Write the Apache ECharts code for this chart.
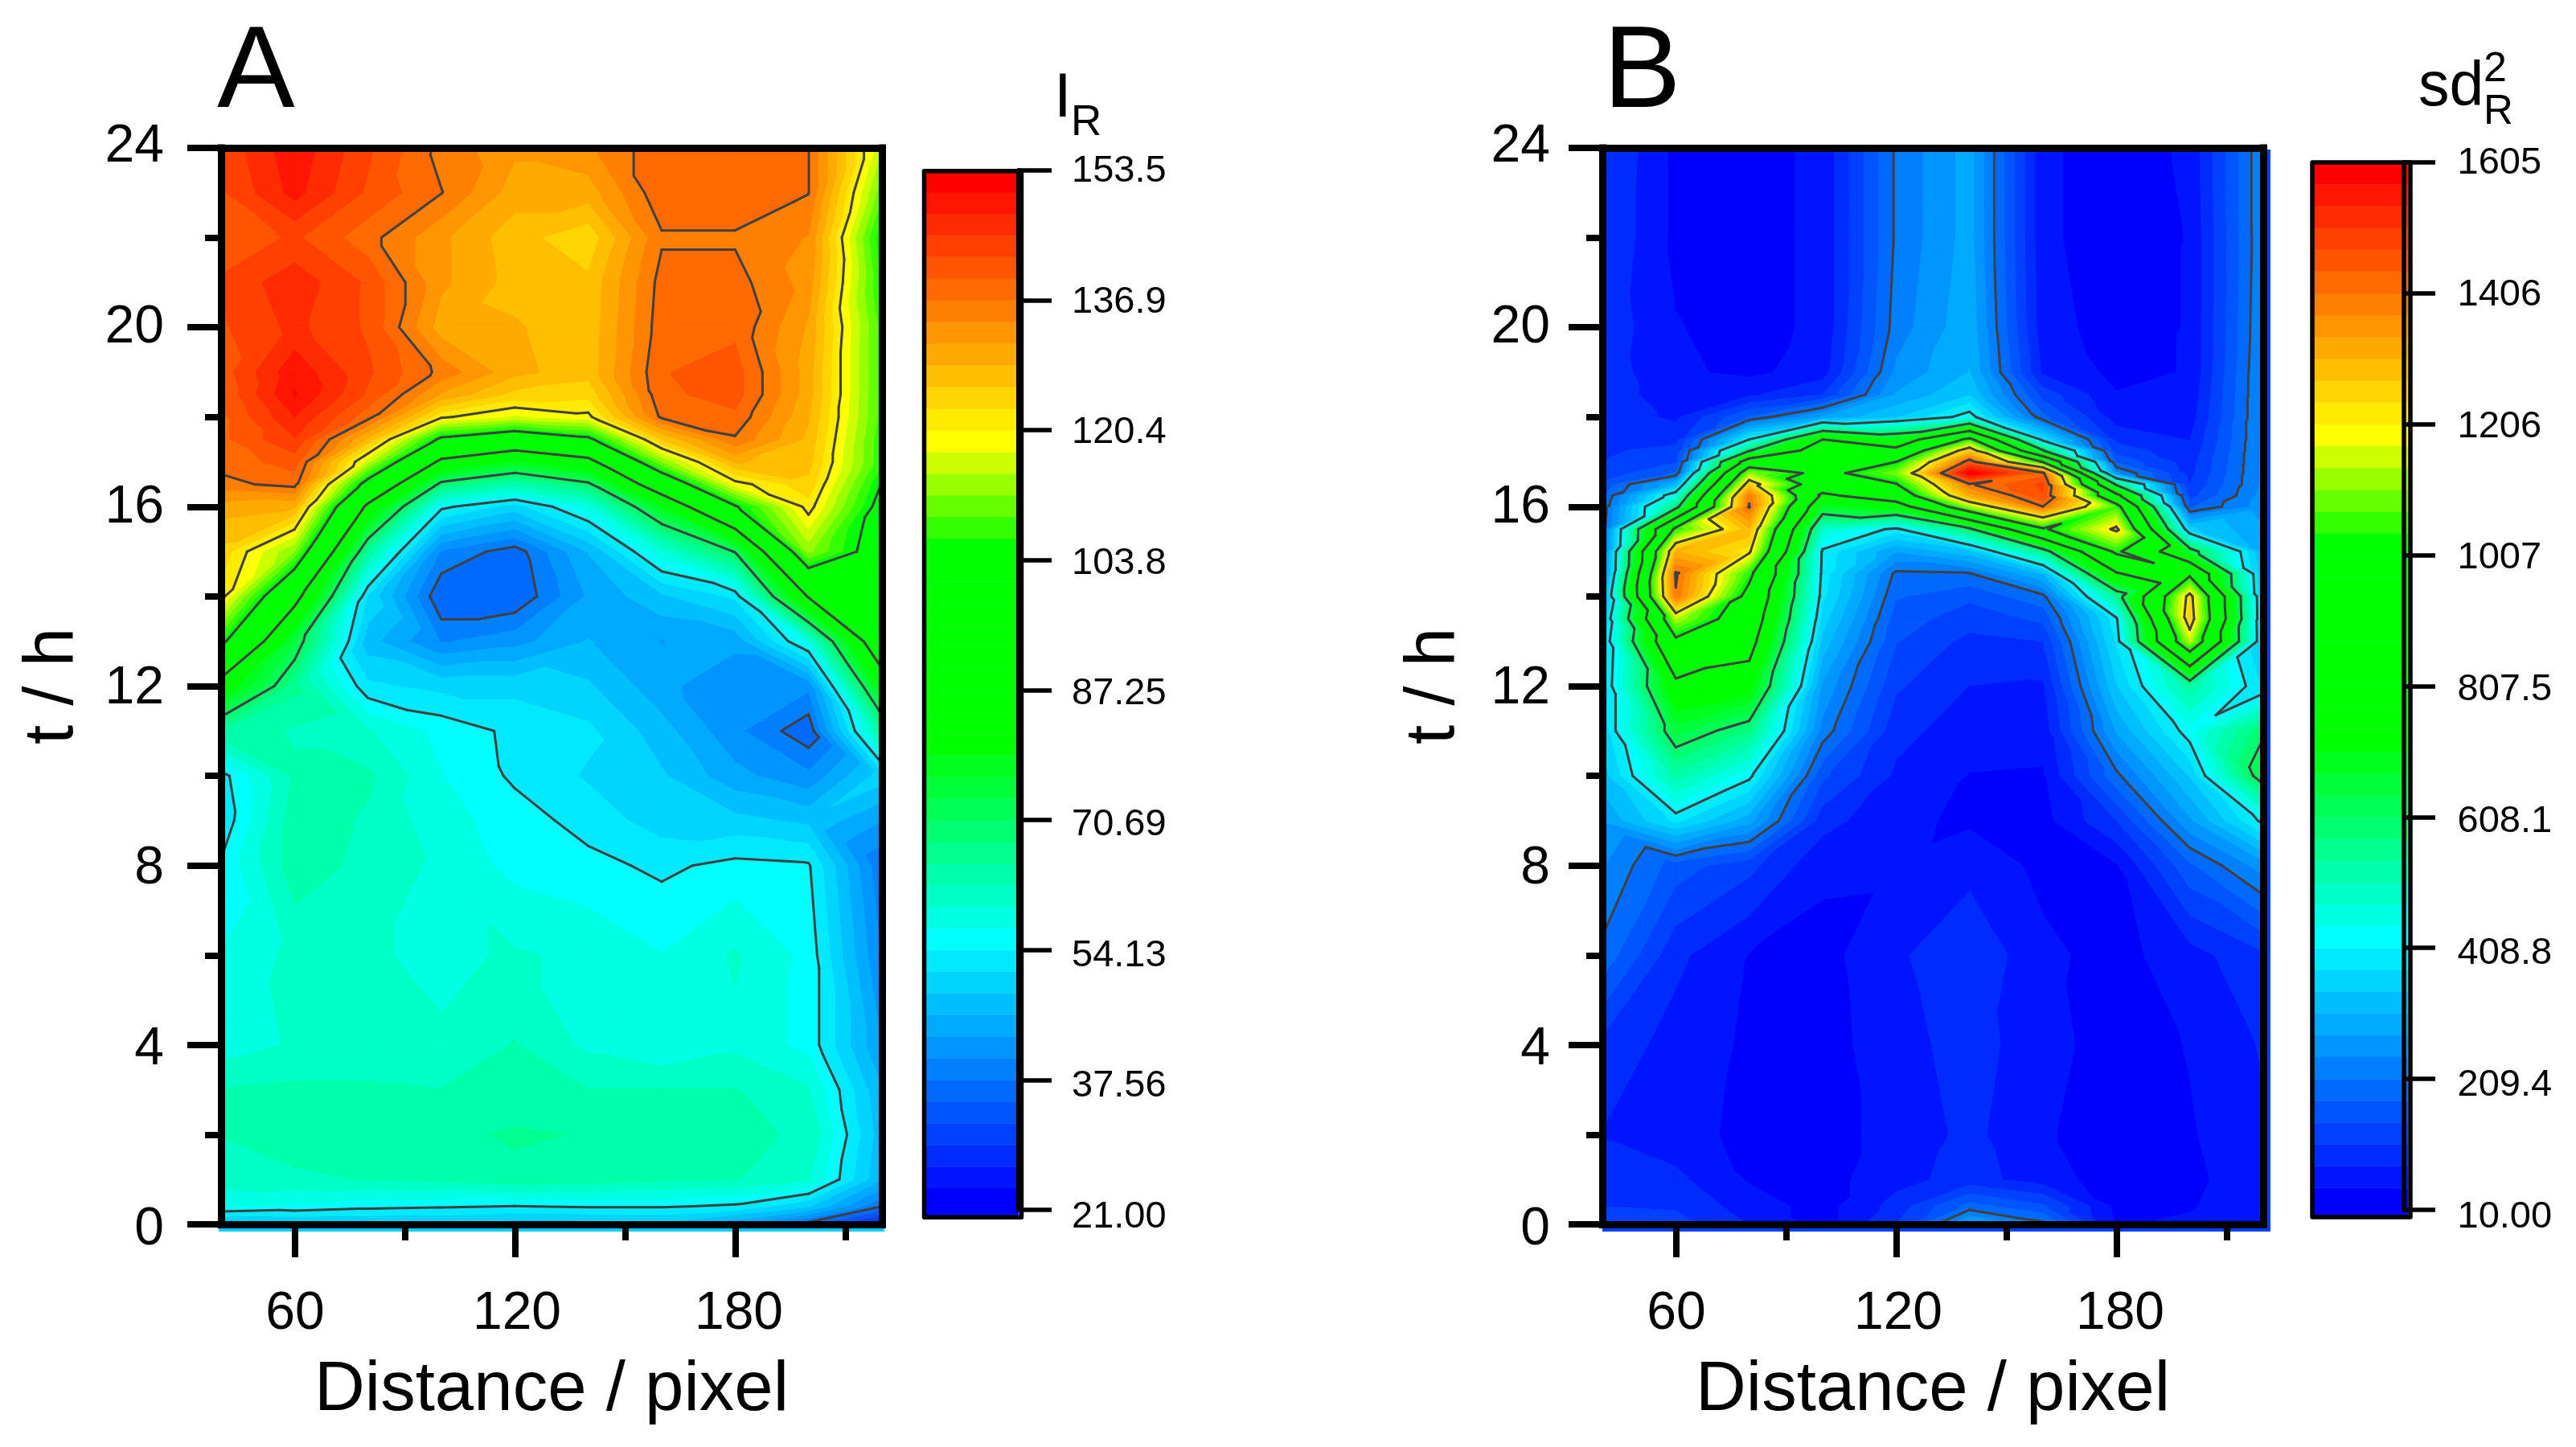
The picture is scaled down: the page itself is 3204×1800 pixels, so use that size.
<!DOCTYPE html>
<html>
<head>
<meta charset="utf-8">
<title>Contour maps</title>
<script src="https://cdn.jsdelivr.net/npm/echarts@6/dist/echarts.min.js"></script>
<style>
html, body { margin: 0; background: #fff; }
#chart { width: 3204px; height: 1800px; }
</style>
</head>
<body>
<div id="chart"></div>
<script>
const distance = [40, 60, 80, 100, 120, 140, 160, 180, 200, 220];
const xTicks = [60, 120, 180];
const xMinorTicks = [90, 150, 210];

// panel A, one list per distance, rows follow hoursA
const hoursA = [0, 0.4, 1, 2, 3, 4, 6, 8, 9, 10, 11, 12, 13, 14, 15, 16, 16.5, 17, 17.5, 18, 18.5, 19, 20, 21, 22, 23, 24];
const ir40 = [47, 57, 61, 62.5, 62.5, 58, 57, 54.5, 52, 53, 65, 83, 106, 122, 125, 130, 136, 138, 139, 139, 140, 141, 142, 143, 140, 142, 143];
const ir60 = [48, 56, 62, 63.5, 63, 60, 60.5, 64, 64, 63, 62, 66, 74, 91, 112, 129, 138, 141, 145, 148, 151, 150, 146, 147, 143, 149, 150];
const ir80 = [48, 55, 62.5, 64, 63, 60, 60, 61.5, 62, 63, 60, 52, 47, 51, 65, 85, 100, 116, 128, 138, 142, 143, 142, 142, 138, 142, 143];
const ir100 = [48, 54.5, 63, 64.5, 62.5, 60, 59, 59, 58, 57, 56, 50.5, 40, 35, 40, 55, 69, 85, 102, 121, 131, 136, 130, 132, 132, 137, 136];
const ir120 = [47, 54, 64.5, 65.5, 63.5, 62.6, 60, 56, 55.5, 53.6, 53.4, 50.5, 42, 35, 36, 50, 63, 78, 96, 117, 125, 129.5, 129, 127.5, 127, 130, 132];
const ir140 = [47, 54.5, 64, 65, 62.5, 59, 59, 55, 53, 51, 52, 49, 46, 43.5, 46, 58, 69.5, 84, 102, 119.5, 124, 127, 126.8, 126.5, 124, 130, 133.5];
const ir160 = [47.5, 54.5, 63, 63.5, 62.5, 57, 57, 53.5, 50, 49, 47, 44, 43, 48, 59, 78, 95, 112, 126, 137.5, 139, 139.5, 138.5, 138, 136.5, 139, 139];
const ir180 = [43, 53.5, 62.5, 63, 62.5, 59, 60, 55, 49.5, 44, 41, 40.5, 44, 52, 71, 103, 119, 129, 136.5, 139, 141, 141, 139, 138, 136.5, 139, 139];
const ir200 = [36, 49, 60, 62, 60, 56, 56, 54.5, 48, 41, 35.5, 41, 58, 88, 113, 122, 125, 127, 128, 129, 130, 130, 131, 133, 134, 137, 137];
const ir220 = [26, 37.5, 46, 47, 46, 43, 40, 38, 43, 50, 65, 81, 97, 98, 99, 101, 103.5, 107, 107, 108, 108, 108, 108, 106, 104, 110, 115];
const ticksA = [21, 37.56, 54.13, 70.69, 87.25, 103.8, 120.4, 136.9, 153.5];

// panel B, rows follow hoursB
const hoursB = [0, 0.4, 1, 2, 4, 6, 8, 9, 10, 11, 12, 13, 13.5, 14, 14.5, 15, 15.5, 16, 16.25, 16.5, 16.75, 17, 17.25, 17.5, 18, 18.5, 19, 20, 22, 24];
const sd40 = [130, 110, 90, 75, 100, 200, 245, 280, 325, 355, 355, 345, 320, 270, 212, 205, 195, 185, 170, 150, 120, 110, 105, 100, 95, 95, 95, 100, 110, 115];
const sd60 = [125, 105, 85, 55, 62, 85, 160, 385, 528, 654, 772, 980, 1140, 1400, 1415, 1308, 1040, 570, 455, 310, 180, 140, 120, 100, 70, 58, 50, 45, 35, 35];
const sd80 = [75, 60, 40, 35, 38, 42, 120, 290, 420, 570, 740, 860, 910, 960, 1040, 1220, 1300, 1410, 1395, 1260, 1120, 900, 600, 408, 180, 70, 35, 32, 32, 32];
const sd100 = [30, 30, 30, 30, 30, 32, 50, 90, 150, 230, 270, 330, 360, 385, 395, 400, 480, 670, 780, 900, 965, 950, 900, 807, 280, 110, 60, 50, 50, 50];
const sd120 = [110, 90, 65, 55, 62, 70, 48, 50, 70, 88, 115, 145, 160, 180, 200, 276, 396, 730, 900, 1000, 1100, 1007, 850, 700, 340, 280, 250, 225, 215, 215];
const sd140 = [290, 190, 90, 85, 92, 105, 65, 38, 42, 58, 76, 100, 125, 150, 205, 330, 590, 1120, 1320, 1400, 1600, 1440, 1270, 1040, 430, 340, 310, 300, 290, 290];
const sd160 = [220, 150, 60, 48, 55, 50, 35, 32, 40, 55, 72, 110, 150, 200, 310, 560, 990, 1405, 1470, 1480, 1420, 1000, 620, 385, 185, 130, 70, 55, 50, 50];
const sd180 = [40, 35, 25, 22, 28, 32, 40, 110, 200, 280, 340, 380, 400, 550, 790, 1035, 1225, 1060, 850, 590, 250, 170, 130, 100, 60, 45, 35, 30, 25, 25];
const sd200 = [50, 40, 35, 40, 45, 62, 170, 270, 345, 430, 535, 1150, 1260, 1240, 980, 650, 350, 170, 130, 110, 100, 95, 85, 75, 60, 52, 45, 45, 45, 50];
const sd220 = [80, 70, 65, 70, 80, 105, 260, 420, 650, 600, 370, 340, 335, 330, 320, 300, 280, 260, 255, 250, 250, 250, 250, 250, 250, 250, 250, 245, 240, 240];
const ticksB = [10, 209.4, 408.8, 608.1, 807.5, 1007, 1206, 1406, 1605];

const FONT = "'Liberation Sans', Arial, sans-serif";
const BANDS = 48;
const LINE_COLOR = "#404040";
// colour ramp of the bar, band index -> rgb
const rampStops = [
	[0, [0, 0, 255]],
	[12, [0, 255, 255]],
	[21, [0, 255, 0]],
	[30, [0, 255, 0]],
	[35, [255, 255, 0]],
	[47, [255, 0, 0]],
];

function bandColor(k) {
	for (let i = 1; i < rampStops.length; i++) {
		const [k0, c0] = rampStops[i - 1];
		const [k1, c1] = rampStops[i];
		if (k <= k1) {
			const t = (k - k0) / (k1 - k0);
			return "rgb(" + c0.map((c, j) => Math.round(c + (c1[j] - c) * t)).join(",") + ")";
		}
	}
	return "rgb(255,0,0)";
}

// keep the part of a polygon on one side of a value, points are [x, y, v]
function clipValue(poly, level, keepAbove) {
	const out = [];
	for (let i = 0; i < poly.length; i++) {
		const a = poly[i];
		const b = poly[(i + 1) % poly.length];
		const aIn = keepAbove ? a[2] >= level : a[2] <= level;
		const bIn = keepAbove ? b[2] >= level : b[2] <= level;
		if (aIn) out.push(a);
		if (aIn !== bIn) {
			const t = (level - a[2]) / (b[2] - a[2]);
			out.push([a[0] + (b[0] - a[0]) * t, a[1] + (b[1] - a[1]) * t, level]);
		}
	}
	return out;
}

function buildContours(columns, hours, ticks) {
	const min = ticks[0];
	const step = (ticks[ticks.length - 1] - min) / BANDS;
	const pieces = [];
	const segments = [];
	const node = (i, j) => [distance[i], hours[j], columns[i][j]];
	const addTriangle = (tri) => {
		const vals = tri.map((p) => p[2]);
		const lo = Math.min(...vals);
		const hi = Math.max(...vals);
		const k0 = Math.max(0, Math.floor((lo - min) / step));
		const k1 = Math.min(BANDS - 1, Math.floor((hi - min) / step));
		for (let k = k0; k <= k1; k++) {
			let poly = k > 0 ? clipValue(tri, min + k * step, true) : tri;
			if (k < BANDS - 1) poly = clipValue(poly, min + (k + 1) * step, false);
			if (poly.length > 2) pieces.push({ k, pts: poly.map((p) => [p[0], p[1]]) });
		}
		ticks.slice(1, -1).forEach((level) => {
			const cross = [];
			for (let i = 0; i < 3; i++) {
				const a = tri[i];
				const b = tri[(i + 1) % 3];
				if (a[2] < level !== b[2] < level) {
					const t = (level - a[2]) / (b[2] - a[2]);
					cross.push([a[0] + (b[0] - a[0]) * t, a[1] + (b[1] - a[1]) * t]);
				}
			}
			if (cross.length === 2) segments.push(cross);
		});
	};
	for (let i = 0; i < distance.length - 1; i++) {
		for (let j = 0; j < hours.length - 1; j++) {
			const a = node(i, j);
			const b = node(i + 1, j);
			const c = node(i + 1, j + 1);
			const d = node(i, j + 1);
			// split each cell along the diagonal that follows the isolines
			if (Math.abs(a[2] - c[2]) <= Math.abs(b[2] - d[2])) {
				addTriangle([a, b, c]);
				addTriangle([a, c, d]);
			} else {
				addTriangle([a, b, d]);
				addTriangle([b, c, d]);
			}
		}
	}
	return { pieces, segments };
}

const option = {
	animation: false,
	backgroundColor: "#fff",
	grid: [],
	xAxis: [],
	yAxis: [],
	series: [],
	graphic: { elements: [] },
};

function hiddenAxis(extra) {
	return Object.assign({
		type: "value",
		axisLine: { show: false },
		axisTick: { show: false },
		axisLabel: { show: false },
		splitLine: { show: false },
		z: 10,
	}, extra);
}

const frameLine = { show: true, onZero: false, lineStyle: { color: "#000", width: 9, cap: "square" } };

function addPlot(left, columns, hours, ticks, labelMargin) {
	const gridIndex = option.grid.length;
	option.grid.push({ left, top: 184, width: 822, height: 1339 });
	const xMain = option.xAxis.length;
	const xRange = { min: 40, max: 220, gridIndex };
	const yRange = { min: 0, max: 24, gridIndex };
	option.xAxis.push(
		hiddenAxis({
			...xRange,
			position: "bottom",
			axisLine: frameLine,
			axisTick: { show: true, customValues: xTicks, length: 41, lineStyle: { color: "#000", width: 8 } },
			name: "Distance / pixel",
			nameLocation: "middle",
			nameGap: 164,
			nameTextStyle: { color: "#000", fontSize: 87, fontFamily: FONT },
		}),
		hiddenAxis({
			...xRange,
			position: "bottom",
			axisTick: { show: true, customValues: xMinorTicks, length: 20, lineStyle: { color: "#000", width: 8 } },
		}),
		hiddenAxis({ ...xRange, position: "top", axisLine: frameLine })
	);
	const yMain = option.yAxis.length;
	option.yAxis.push(
		hiddenAxis({
			...yRange,
			interval: 4,
			position: "left",
			axisLine: frameLine,
			axisTick: { show: true, length: 42, lineStyle: { color: "#000", width: 8 } },
			minorTick: { show: true, splitNumber: 2, length: 20, lineStyle: { color: "#000", width: 8 } },
			name: "t / h",
			nameLocation: "middle",
			nameGap: 165,
			nameTextStyle: { color: "#000", fontSize: 87, fontFamily: FONT },
		}),
		hiddenAxis({ ...yRange, position: "right", axisLine: frameLine })
	);
	// the tick labels sit on a slightly longer scale than the ticks
	const labelGrid = option.grid.length;
	option.grid.push({ left, top: 183, width: 828, height: 1347 });
	option.xAxis.push(hiddenAxis({
		min: 40,
		max: 220,
		gridIndex: labelGrid,
		position: "bottom",
		axisLabel: { show: true, customValues: xTicks, margin: 72, color: "#000", fontSize: 66, fontFamily: FONT },
	}));
	option.yAxis.push(hiddenAxis({
		min: 0,
		max: 24,
		interval: 4,
		gridIndex: labelGrid,
		position: "left",
		axisLabel: { show: true, margin: labelMargin, color: "#000", fontSize: 66, fontFamily: FONT },
	}));
	const { pieces, segments } = buildContours(columns, hours, ticks);
	option.series.push(
		{
			type: "custom",
			xAxisIndex: xMain,
			yAxisIndex: yMain,
			z: 2,
			progressive: 0,
			silent: true,
			data: pieces.map((p, i) => [i]),
			renderItem: (params, api) => {
				const piece = pieces[params.dataIndex];
				const color = bandColor(piece.k);
				return {
					type: "polygon",
					shape: { points: piece.pts.map((p) => api.coord(p)) },
					style: { fill: color, stroke: color, lineWidth: 1 },
				};
			},
		},
		{
			type: "custom",
			xAxisIndex: xMain,
			yAxisIndex: yMain,
			z: 3,
			progressive: 0,
			silent: true,
			data: segments.map((s, i) => [i]),
			renderItem: (params, api) => {
				const seg = segments[params.dataIndex];
				const a = api.coord(seg[0]);
				const b = api.coord(seg[1]);
				return {
					type: "line",
					shape: { x1: a[0], y1: a[1], x2: b[0], y2: b[1] },
					style: { stroke: LINE_COLOR, lineWidth: 3, lineCap: "round" },
				};
			},
		}
	);
}

function addBar(left, width, tickTop, frame, ticks, rightBleed) {
	const min = ticks[0];
	const max = ticks[ticks.length - 1];
	const height = 1505 - tickTop;
	let gridIndex = option.grid.length;
	option.grid.push({ left, top: tickTop, width, height });
	const xIndex = option.xAxis.length;
	const yIndex = option.yAxis.length;
	option.xAxis.push(hiddenAxis({ min: 0, max: 1, gridIndex }));
	option.yAxis.push(hiddenAxis({
		min,
		max,
		gridIndex,
		position: "right",
		axisLine: { show: true, onZero: false, lineStyle: { color: "#000", width: frame.axisWidth } },
		axisTick: { show: true, customValues: ticks, length: frame.tickEnd - left - width, lineStyle: { color: "#000", width: 5.5 } },
	}));
	const step = (max - min) / BANDS;
	option.series.push({
		type: "custom",
		xAxisIndex: xIndex,
		yAxisIndex: yIndex,
		z: 2,
		silent: true,
		data: Array.from({ length: BANDS }, (d, k) => [k]),
		renderItem: (params, api) => {
			const k = params.dataIndex;
			const top = api.coord([0, min + (k + 1) * step]);
			const bottom = api.coord([1, min + k * step]);
			const color = bandColor(k);
			return {
				type: "rect",
				shape: {
					x: top[0],
					y: top[1],
					width: bottom[0] - top[0] + rightBleed,
					height: bottom[1] - top[1] + (k === 0 ? 8 : 0),
				},
				style: { fill: color, stroke: color, lineWidth: 0.6 },
			};
		},
	});
	gridIndex = option.grid.length;
	option.grid.push({ left, top: tickTop + 1, width, height: 1514 - tickTop - 1 });
	option.xAxis.push(hiddenAxis({ min: 0, max: 1, gridIndex }));
	option.yAxis.push(hiddenAxis({
		min,
		max,
		gridIndex,
		position: "right",
		axisLabel: {
			show: true,
			customValues: ticks,
			margin: frame.labelMargin,
			color: "#000",
			fontSize: 47,
			fontFamily: FONT,
			formatter: (v) => v.toPrecision(4),
		},
	}));
	option.graphic.elements.push({
		type: "rect",
		z: 20,
		shape: { x: frame.x, y: frame.y, width: frame.w, height: frame.h },
		style: { fill: "none", stroke: "#000", lineWidth: 5.5, lineJoin: "round" },
		silent: true,
	});
}

function addText(text, x, baseline, size) {
	option.graphic.elements.push({
		type: "text",
		z: 20,
		silent: true,
		style: {
			text,
			x,
			y: baseline - 0.35 * size,
			fill: "#000",
			font: size + "px " + FONT,
			verticalAlign: "middle",
		},
	});
}

function addStrip(x, y, w, h, color) {
	option.graphic.elements.push({
		type: "rect",
		z: 1,
		silent: true,
		shape: { x, y, width: w, height: h },
		style: { fill: color },
	});
}

addStrip(272, 1515, 828, 17, "#00ccff");
addStrip(1993, 186, 831, 1346, "#0040ff");

addPlot(275, [ir40, ir60, ir80, ir100, ir120, ir140, ir160, ir180, ir200, ir220], hoursA, ticksA, 71);
addPlot(1993, [sd40, sd60, sd80, sd100, sd120, sd140, sd160, sd180, sd200, sd220], hoursB, ticksB, 65);

addBar(1149.5, 117.5, 212, { x: 1149.5, y: 212.7, w: 121, h: 1301.5, axisWidth: 6, tickEnd: 1308, labelMargin: 66 }, ticksA, 0);
addBar(2876, 113.5, 202, { x: 2876, y: 202, w: 122, h: 1312, axisWidth: 5.5, tickEnd: 3029, labelMargin: 67 }, ticksB, 5.5);

addText("A", 270, 144, 145);
addText("B", 1994, 144, 145);
addText("I", 1311, 151, 78);
addText("R", 1332, 172, 53);
addText("sd", 3008, 137, 77);
addText("2", 3089, 105, 52);
addText("R", 3089, 158, 51);

const chart = echarts.init(document.getElementById("chart"), null, { width: 3204, height: 1800, renderer: "canvas" });
chart.setOption(option);
</script>
</body>
</html>
